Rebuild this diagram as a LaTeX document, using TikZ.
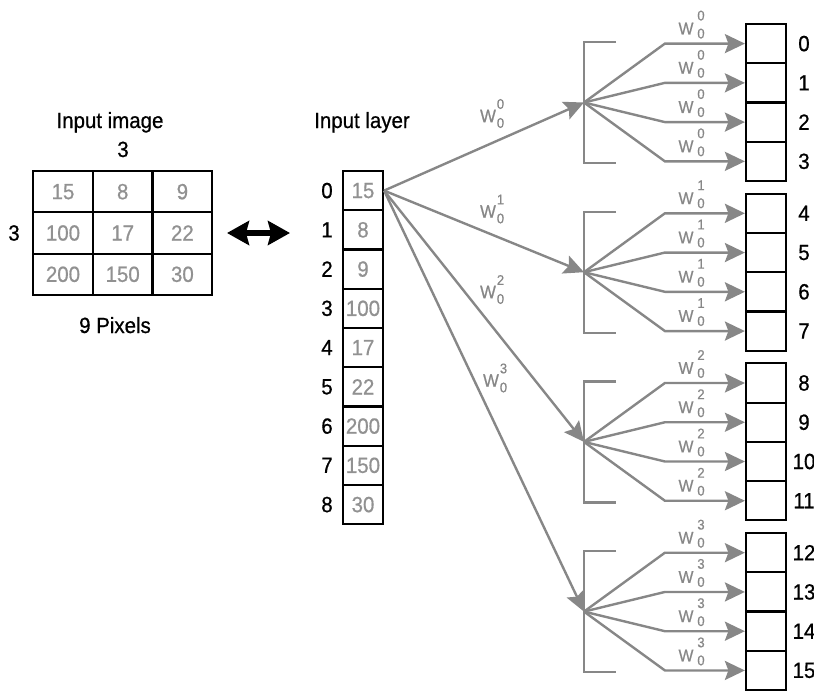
\documentclass[tikz,border=0pt]{standalone}
\usepackage{fontspec}
\setmainfont{Liberation Sans}[FakeStretch=0.93,FakeBold=0.7]
\usetikzlibrary{arrows.meta,positioning,calc}
\definecolor{wiregray}{RGB}{135,135,135}
\definecolor{valgray}{RGB}{145,145,145}
\tikzset{
  lbl/.style={font=\fontsize{22}{26}\selectfont,inner sep=0pt},
  cell/.style={draw,line width=2.2pt,inner sep=0pt,font=\fontsize{22}{26}\selectfont,text=valgray},
  gcell/.style={cell,minimum width=59.7pt,minimum height=41.3pt},
  vcell/.style={cell,minimum width=40pt,minimum height=39.25pt},
  wirel/.style={draw=wiregray,line width=2.4pt,line join=miter},
  headarr/.style={-{Stealth[length=20pt,width=19pt,inset=3.5pt]}},
  bothway/.style={line width=6pt,
    {Stealth[length=22pt,width=24pt,inset=3pt]}-{Stealth[length=22pt,width=24pt,inset=3pt]}},
  wsym/.style={text=wiregray,inner sep=0pt,font=\fontsize{17}{19}\selectfont},
  wbig/.style={text=wiregray,inner sep=0pt,font=\fontsize{18}{21}\selectfont},
  wdig/.style={text=wiregray,inner sep=0pt,font=\fontsize{14}{16}\selectfont},
}
\begin{document}
\begin{tikzpicture}[x=1pt,y=-1pt]
\useasboundingbox (0,0) rectangle (814,693);
% input image
\node[lbl,anchor=base] (imgtitle) at (110,128) {Input image};
\node[lbl,anchor=base] (imgcols) at (123,157) {3};
\node[lbl] (imgrows) at (14,233) {3};
\foreach \v [count=\i from 0] in {15,8,9,100,17,22,200,150,30} {
  \pgfmathtruncatemacro\r{\i/3}
  \pgfmathtruncatemacro\c{mod(\i,3)}
  \node[gcell] (px\i) at (63+59.7*\c,191.7+41.3*\r) {\v};
}
\node[lbl,anchor=base] (imgsize) at (115,333) {9 Pixels};
\coordinate (swapl) at (227,233);
\coordinate (swapr) at (290,233);
\draw[bothway] (swapl) -- (swapr);
% input layer
\node[lbl,anchor=base] (laytitle) at (362,128) {Input layer};
\foreach \v [count=\i from 0] in {15,8,9,100,17,22,200,150,30} {
  \node[vcell] (in\i) at (363,190.6+39.25*\i) {\v};
  \node[lbl,left=9pt of in\i] (inidx\i) {\i};
}
% weights to the fan points
\foreach \k/\xw/\yw in {0/488/116,1/488/211.5,2/488/292,3/491/380.5} {
  \node[wbig] (lw\k) at (\xw,\yw) {W};
  \node[wdig] (lwsup\k) at (\xw+12.5,\yw-12) {\k};
  \node[wdig] (lwsub\k) at (\xw+12.5,\yw+7) {0};
}
% output groups
\foreach \g in {0,...,3} {
  \pgfmathsetmacro\gtop{24+169.7*\g}
  \coordinate (fan\g) at (584,\gtop+78.5);
  \draw[wirel] (616,\gtop+18) -- (584,\gtop+18) -- (584,\gtop+139) -- (616,\gtop+139);
  \draw[wirel,headarr] (in0.east) -- (fan\g);
  \foreach \k in {0,...,3} {
    \pgfmathtruncatemacro\n{4*\g+\k}
    \pgfmathsetmacro\yc{\gtop+19.6+39.25*\k}
    \node[vcell] (out\n) at (766,\yc) {};
    \node[lbl] (outidx\n) at (804,\yc) {\n};
    \draw[wirel,headarr] (fan\g) -- ([xshift=-80pt]out\n.west) -- (out\n.west);
    \node[wsym] (ow\n) at (686,\yc-15) {W};
    \node[wdig] (owsup\n) at (701,\yc-28) {\g};
    \node[wdig] (owsub\n) at (701,\yc-10) {0};
  }
}
\end{tikzpicture}
\end{document}
